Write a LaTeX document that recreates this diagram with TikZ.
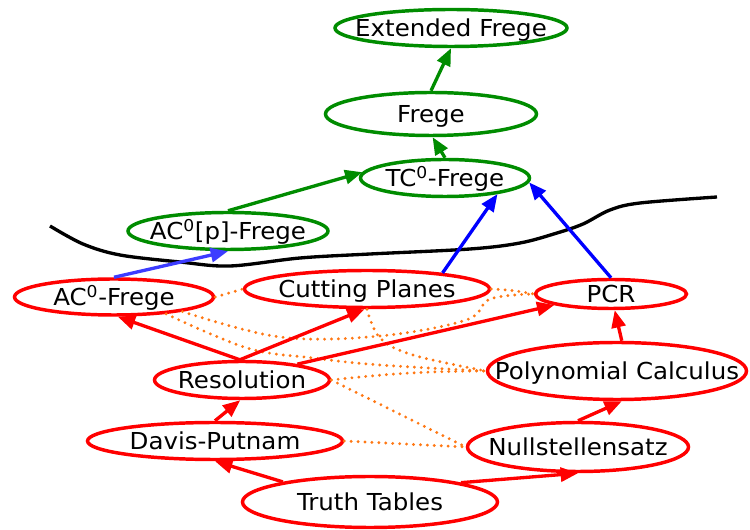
\documentclass[tikz,border=0pt]{standalone}
\usepackage{fontspec}
\setmainfont{DejaVu Sans}[FakeStretch=1.05]
\usetikzlibrary{shapes.geometric,arrows.meta}
\definecolor{fgreen}{RGB}{0,140,0}
\definecolor{pblue}{RGB}{0,0,255}
\definecolor{lblue}{RGB}{60,60,255}
\definecolor{simred}{RGB}{255,0,0}
\definecolor{dotorange}{RGB}{255,120,20}
% centred label of fixed size, so the ellipse keeps its given dimensions
\newcommand{\sysname}[1]{\makebox[0pt]{#1}}
\begin{document}
\begin{tikzpicture}[x=0.75pt,y=-0.75pt,
  every node/.style={font=\fontsize{17.5}{21}\selectfont, text=black},
  sys/.style={ellipse, draw, line width=2.6pt, inner sep=0pt, text height=12.8pt, text depth=0pt},
  dims/.style 2 args={minimum width=#1*0.75pt, minimum height=#2*0.75pt},
  weak/.style={sys, draw=simred},
  strong/.style={sys, draw=fgreen},
  imp/.style={-{Triangle[length=13pt,width=10.5pt]}, line width=2.5pt},
  redimp/.style={imp, simred},
  blueimp/.style={imp, pblue},
  greenimp/.style={imp, fgreen},
  incomp/.style={dotorange, line width=2.4pt, line cap=round, dash pattern=on 0pt off 5.2pt},
  divider/.style={black, line width=2.5pt}
]
\useasboundingbox (0,0) rectangle (750,530);

% boundary between the weak and strong systems
\draw[divider] plot[smooth, tension=0.55] coordinates {(50,226) (83,244) (120,255) (180,262) (230,266) (300,258) (370,254) (470,249) (520,243) (557,233) (583,224) (610,210) (640,203) (717,197)};

% strong systems
\node[strong, dims={232}{37}] (ef) at (451,28) {\sysname{Extended Frege}};
\node[strong, dims={211}{43}] (frege) at (431,114) {\sysname{Frege}};
\node[strong, dims={169}{37}] (tc0) at (445,178) {\sysname{TC\textsuperscript{0}-Frege}};
\node[strong, dims={200}{37}] (ac0p) at (228,231) {\sysname{AC\textsuperscript{0}[p]-Frege}};

% weak systems
\node[weak, dims={199}{36}] (ac0) at (114,297) {\sysname{AC\textsuperscript{0}-Frege}};
\node[weak, dims={245}{37}] (cp) at (367,289) {\sysname{Cutting Planes}};
\node[weak, dims={151}{29}] (pcr) at (611,294) {\sysname{PCR}};
\node[weak, dims={259}{57}] (pc) at (617,371) {\sysname{Polynomial Calculus}};
\node[weak, dims={175}{37}] (res) at (242,380) {\sysname{Resolution}};
\node[weak, dims={255}{37}] (dp) at (215,441) {\sysname{Davis-Putnam}};
\node[weak, dims={221}{49}] (null) at (578,447) {\sysname{Nullstellensatz}};
\node[weak, dims={255}{51}] (tt) at (370,502) {\sysname{Truth Tables}};

% incomparable pairs
\draw[incomp] (ac0.east) -- (cp.west);
\draw[incomp] (cp.east) to[bend left=4] (pcr.west);
\draw[incomp] plot[smooth, tension=0.6] coordinates {(ac0.-12) (280,337) (380,336) (466,320) (490,299) (pcr.west)};
\draw[incomp] plot[smooth, tension=0.6] coordinates {(ac0.-18) (247,348) (313,358) (380,365) (pc.west)};
\draw[incomp] plot[smooth, tension=0.6] coordinates {(cp.south) (380,338) (413,355) (pc.west)};
\draw[incomp] (res.east) to[bend left=3] (pc.west);
\draw[incomp] (res.east) -- (null.west);
\draw[incomp] (dp.east) -- (null.west);

% simulations among weak systems
\draw[redimp] (res.96) -- (ac0.-79);
\draw[redimp] (res.96) -- (cp.-97);
\draw[redimp] (res.16) -- (pcr.191);
\draw[redimp] (dp.90) -- (res.-95);
\draw[redimp] (tt.167) -- (dp.-90);
\draw[redimp] (tt.12) -- (null.-90);
\draw[redimp] (null.90) -- (pc.-81);
\draw[redimp] (pc.81) -- (pcr.-77);

% crossing into the strong systems
\draw[imp, lblue] (ac0.90) -- (ac0p.-90);
\draw[blueimp] (cp.12) -- (tc0.-17);
\draw[blueimp] (pcr.90) -- (tc0.-3);

% simulations among strong systems
\draw[greenimp] (ac0p.90) -- (tc0.176);
\draw[greenimp] (tc0.90) -- (frege.-86);
\draw[greenimp] (frege.north) -- (ef.south);
\end{tikzpicture}
\end{document}
